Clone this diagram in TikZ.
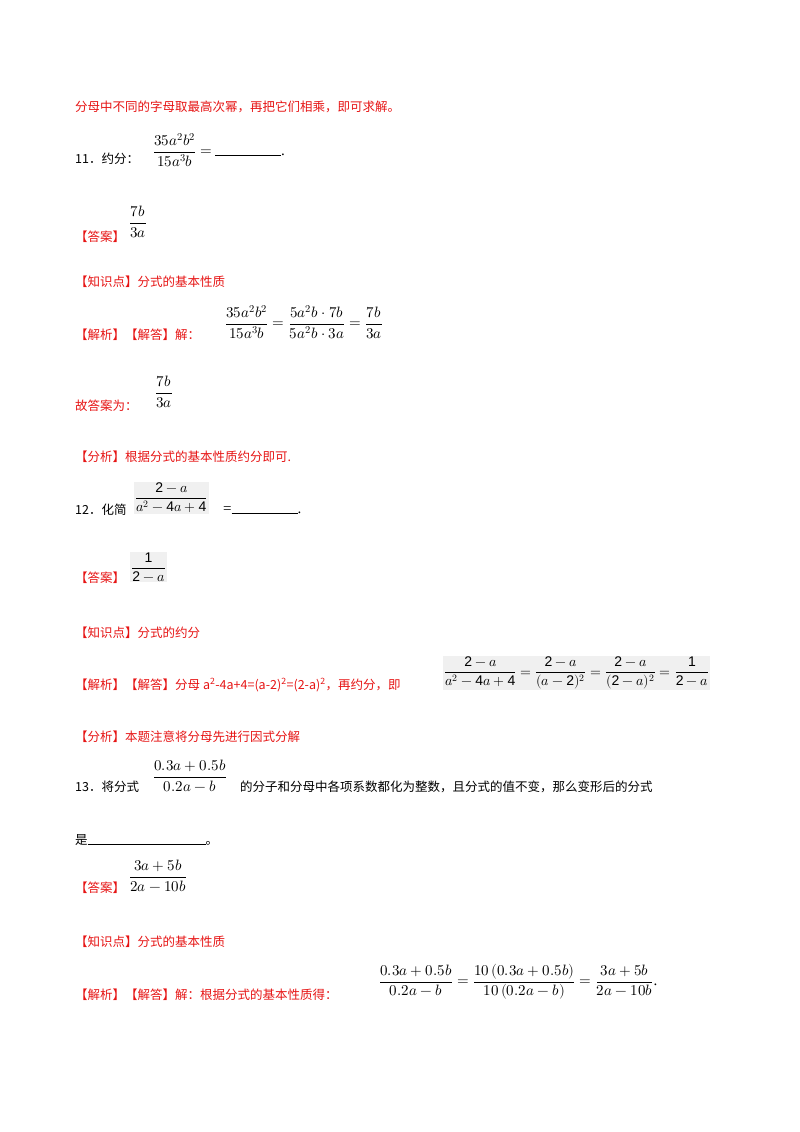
\documentclass[tikz,border=0pt]{standalone}
\usepackage{fontspec}
\setmainfont{Liberation Serif}
\newfontfamily\cjk{Noto Sans CJK SC}
\newfontfamily\sff{Liberation Sans}
\usepackage{unicode-math}
\setmathfont{Latin Modern Math}
\definecolor{ans}{RGB}{230,20,20}
\definecolor{imgbg}{RGB}{240,240,240}
\begin{document}
\begin{tikzpicture}[x=1pt,y=-1pt,
  t/.style={anchor=west,inner sep=0pt,font=\cjk\fontsize{12.5}{14}\selectfont},
  r/.style={t,text=ans},
  m/.style={anchor=west,inner sep=1pt,font=\fontsize{15}{17}\selectfont},
  img/.style={m,fill=imgbg,font=\sff\fontsize{14}{16}\selectfont}]
\useasboundingbox (0,0) rectangle (800,1132);
\node[r] (l1) at (75,107) {分母中不同的字母取最高次幂，再把它们相乘，即可求解。};
\node[t] (q11) at (75,159) {11．约分：};
\node[m] (f11) at (152,150) {$\dfrac{35a^2b^2}{15a^3b}=$\,\rule{66pt}{0.6pt}.};
\node[r] (a11) at (75,237) {【答案】};
\node[m] (a11f) at (128,222) {$\dfrac{7b}{3a}$};
\node[r] (k11) at (75,282) {【知识点】分式的基本性质};
\node[r] (j11) at (75,335) {【解析】【解答】解：};
\node[m] (j11f) at (224,322) {$\dfrac{35a^2b^2}{15a^3b}=\dfrac{5a^2b\cdot 7b}{5a^2b\cdot 3a}=\dfrac{7b}{3a}$};
\node[r] (g11) at (75,406) {故答案为：};
\node[m] (g11f) at (154,392) {$\dfrac{7b}{3a}$};
\node[r] (p11) at (75,457) {【分析】根据分式的基本性质约分即可.};
\node[t] (q12) at (75,510) {12．化简};
\node[img] (f12) at (134,498) {$\dfrac{\text{2} - a}{a^2 - \text{4}a + \text{4}}$};
\node[m] (f12b) at (222,510) {=\rule{66pt}{0.6pt}.};
\node[r] (a12) at (75,578) {【答案】};
\node[img] (a12f) at (130,567) {$\dfrac{\text{1}}{\text{2} - a}$};
\node[r] (k12) at (75,633) {【知识点】分式的约分};
\node[r] (j12) at (75,685) {【解析】【解答】分母 a\textsuperscript{2}-4a+4=(a-2)\textsuperscript{2}=(2-a)\textsuperscript{2}，再约分，即};
\node[img] (j12f) at (443,673) {$\dfrac{\text{2} - a}{a^2 - \text{4}a + \text{4}} = \dfrac{\text{2} - a}{(a - \text{2})^2} = \dfrac{\text{2} - a}{(\text{2} - a)^2} = \dfrac{\text{1}}{\text{2} - a}$};
\node[r] (p12) at (75,737) {【分析】本题注意将分母先进行因式分解};
\node[t] (q13) at (75,787) {13．将分式};
\node[m] (f13) at (152,776) {$\dfrac{0.3a+0.5b}{0.2a-b}$};
\node[t] (q13b) at (240,787) {的分子和分母中各项系数都化为整数，且分式的值不变，那么变形后的分式};
\node[t] (q13c) at (75,840) {是\rule{118pt}{0.6pt}。};
\node[r] (a13) at (75,888) {【答案】};
\node[m] (a13f) at (128,876) {$\dfrac{3a+5b}{2a-10b}$};
\node[r] (k13) at (75,942) {【知识点】分式的基本性质};
\node[r] (j13) at (75,995) {【解析】【解答】解：根据分式的基本性质得：};
\node[m] (j13f) at (378,982) {$\dfrac{0.3a+0.5b}{0.2a-b}=\dfrac{10\left(0.3a+0.5b\right)}{10\left(0.2a-b\right)}=\dfrac{3a+5b}{2a-10b}$.};
\end{tikzpicture}
\end{document}
